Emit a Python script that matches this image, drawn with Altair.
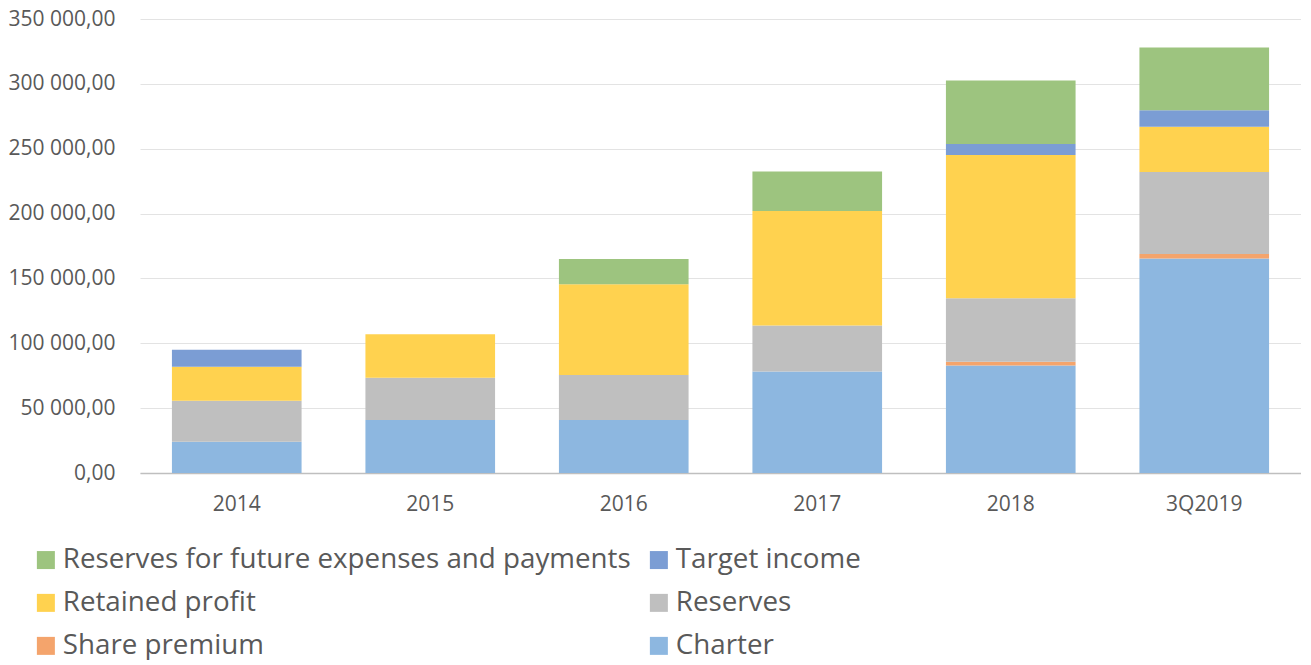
import altair as alt
import pandas as pd

years = ["2014", "2015", "2016", "2017", "2018", "3Q2019"]
charter = [24000, 40800, 40800, 78200, 82900, 165300]
share_premium = [0, 0, 0, 0, 2800, 3600]
reserves = [31700, 32600, 34700, 35500, 49000, 63100]
retained_profit = [26200, 33600, 70000, 88300, 110400, 34900]
target_income = [13100, 0, 0, 0, 8500, 12800]
future_reserves = [0, 0, 19500, 30500, 49000, 48300]

series_names = [
    "Charter",
    "Share premium",
    "Reserves",
    "Retained profit",
    "Target income",
    "Reserves for future expenses and payments",
]
series_values = [charter, share_premium, reserves, retained_profit, target_income, future_reserves]
series_colors = ["#8DB7E0", "#F4A46C", "#BFBFBF", "#FFD24F", "#7B9DD4", "#9DC47F"]

# Vega fills legend columns top to bottom
legend_order = [
    "Reserves for future expenses and payments",
    "Retained profit",
    "Share premium",
    "Target income",
    "Reserves",
    "Charter",
]

rows = []
for si, (name, vals) in enumerate(zip(series_names, series_values)):
    for y, v in zip(years, vals):
        rows.append({"year": y, "series": name, "value": v, "order": si})
df = pd.DataFrame(rows)

color_map = dict(zip(series_names, series_colors))

font = "Open Sans"
label_color = "#595959"

chart = (
    alt.Chart(df)
    .mark_bar(opacity=1)
    .encode(
        x=alt.X(
            "year:N",
            sort=years,
            title=None,
            scale=alt.Scale(paddingInner=0.33, paddingOuter=0.165),
            axis=alt.Axis(
                labelAngle=0,
                labelFont=font,
                labelFontSize=21,
                labelColor=label_color,
                labelPadding=20,
                ticks=False,
                domainColor="#BFBFBF",
                domainWidth=1.5,
                grid=False,
            ),
        ),
        y=alt.Y(
            "value:Q",
            stack="zero",
            title=None,
            scale=alt.Scale(domain=[0, 350000], nice=False),
            axis=alt.Axis(
                values=[0, 50000, 100000, 150000, 200000, 250000, 300000, 350000],
                labelExpr="replace(replace(replace(replace(format(datum.value, ',.2f'), ',', ' '), ',', ' '), ',', ' '), '.', ',')",
                labelFont=font,
                labelFontSize=21,
                labelColor=label_color,
                labelPadding=25,
                ticks=False,
                domain=False,
                grid=True,
                gridColor="#E3E3E3",
                gridWidth=1.2,
            ),
        ),
        color=alt.Color(
            "series:N",
            scale=alt.Scale(domain=legend_order, range=[color_map[n] for n in legend_order]),
            legend=alt.Legend(
                title=None,
                orient="none",
                legendX=-108,
                legendY=527,
                columns=2,
                columnPadding=14,
                rowPadding=14,
                symbolType="square",
                symbolSize=324,
                symbolStrokeWidth=0,
                symbolOpacity=1,
                labelFont=font,
                labelFontSize=27.75,
                labelColor=label_color,
                labelLimit=0,
                labelOffset=3,
            ),
        ),
        order=alt.Order("order:Q", sort="ascending"),
    )
    .properties(width=1161, height=454, padding=0)
    .configure_view(stroke=None)
)

chart.save("out.html", embed_options={"renderer": "svg", "actions": False})
